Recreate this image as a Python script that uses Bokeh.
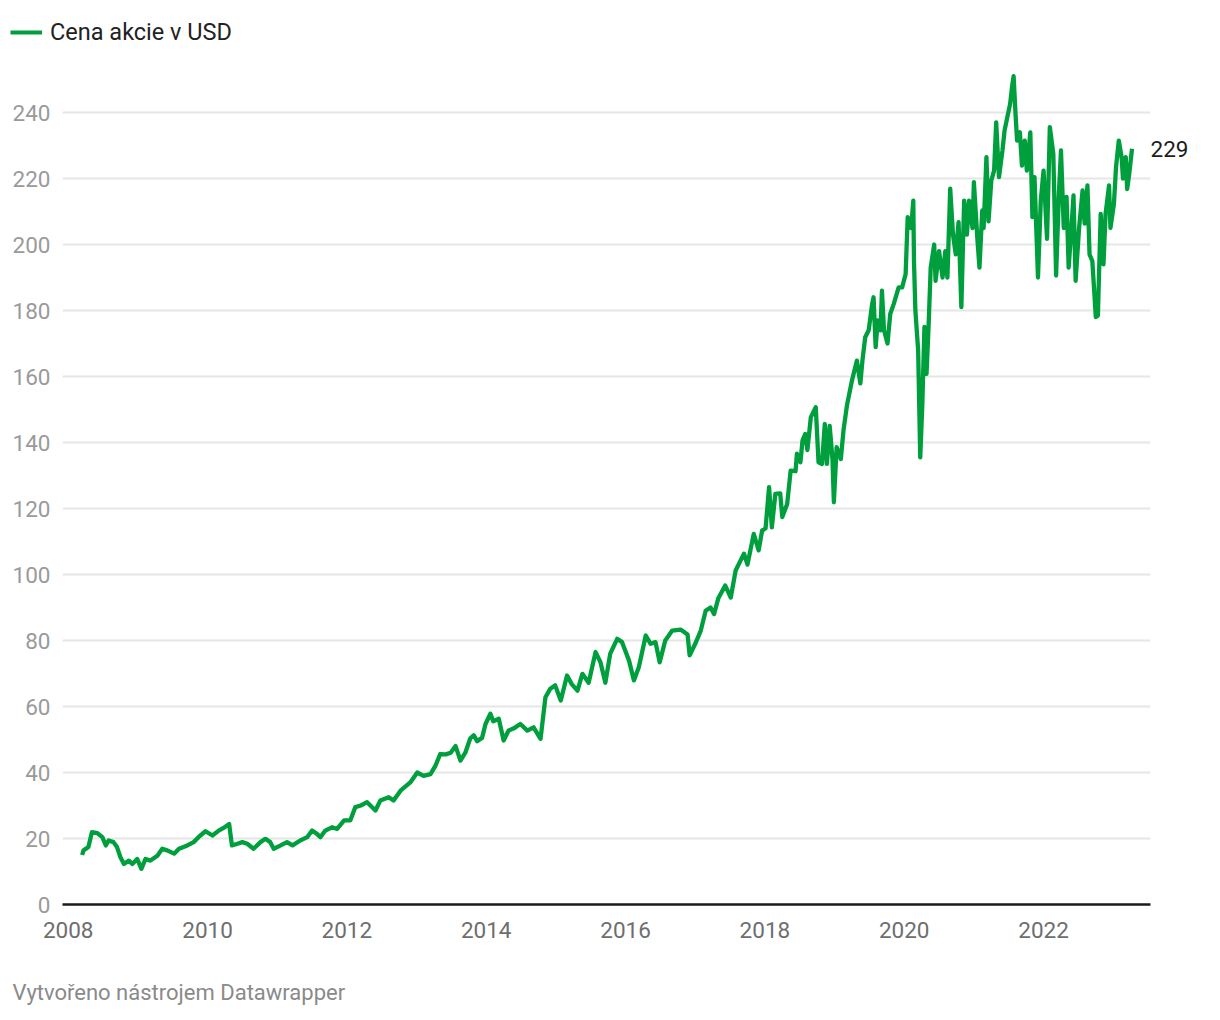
from bokeh.plotting import figure
from bokeh.models import (Range1d, FixedTicker, Label, Legend, LegendItem, ColumnDataSource,
                          LinearAxis, NumeralTickFormatter)
from bokeh.embed import file_html
from bokeh.resources import INLINE

series_name = "Cena akcie v USD"
credit = "Vytvořeno nástrojem Datawrapper"
y_ticks = [0, 20, 40, 60, 80, 100, 120, 140, 160, 180, 200, 220, 240]
x_ticks = [2008, 2010, 2012, 2014, 2016, 2018, 2020, 2022]

years = [
    2008.20, 2008.22, 2008.29, 2008.34, 2008.42, 2008.49, 2008.54, 2008.58, 2008.65, 2008.70, 2008.75, 2008.80, 2008.87, 2008.92, 2008.99,
    2009.05, 2009.11, 2009.18, 2009.28, 2009.35, 2009.42, 2009.52, 2009.59, 2009.71, 2009.80, 2009.87, 2009.97,
    2010.07, 2010.16, 2010.23, 2010.31, 2010.35, 2010.43, 2010.50, 2010.57, 2010.66, 2010.76, 2010.83, 2010.90, 2010.95,
    2011.05, 2011.14, 2011.22, 2011.33, 2011.43, 2011.50, 2011.57, 2011.62, 2011.69, 2011.79, 2011.86, 2011.96,
    2012.05, 2012.12, 2012.20, 2012.29, 2012.41, 2012.48, 2012.60, 2012.67, 2012.77, 2012.91,
    2013.01, 2013.10, 2013.20, 2013.27, 2013.34, 2013.42, 2013.49, 2013.56, 2013.63, 2013.70, 2013.77, 2013.82, 2013.87, 2013.94, 2013.99,
    2014.06, 2014.10, 2014.18, 2014.25, 2014.32, 2014.39, 2014.49, 2014.59, 2014.68, 2014.78, 2014.85, 2014.92, 2014.99,
    2015.07, 2015.16, 2015.23, 2015.31, 2015.38, 2015.47, 2015.57, 2015.64, 2015.71, 2015.78, 2015.88, 2015.95,
    2016.05, 2016.12, 2016.19, 2016.29, 2016.36, 2016.43, 2016.49, 2016.57, 2016.67, 2016.79, 2016.89, 2016.92,
    2017.00, 2017.08, 2017.15, 2017.22, 2017.27, 2017.33, 2017.43, 2017.51, 2017.58, 2017.65, 2017.70, 2017.75, 2017.84, 2017.91, 2017.96,
    2018.01, 2018.06, 2018.10, 2018.15, 2018.22, 2018.25, 2018.32, 2018.37, 2018.44, 2018.46, 2018.51, 2018.54, 2018.58, 2018.61, 2018.66,
    2018.73, 2018.77, 2018.82, 2018.86, 2018.89, 2018.93, 2018.97, 2018.99,
    2019.03, 2019.09, 2019.13, 2019.18, 2019.25, 2019.32, 2019.37, 2019.40, 2019.44, 2019.49, 2019.54, 2019.56, 2019.59, 2019.62, 2019.66,
    2019.68, 2019.71, 2019.76, 2019.80, 2019.85, 2019.92, 2019.97,
    2020.02, 2020.05, 2020.10, 2020.13, 2020.14, 2020.16, 2020.20, 2020.23, 2020.26, 2020.29, 2020.32, 2020.35, 2020.38, 2020.43, 2020.45,
    2020.50, 2020.55, 2020.59, 2020.62, 2020.66, 2020.70, 2020.74, 2020.78, 2020.82, 2020.86, 2020.90, 2020.93, 2020.98,
    2021.00, 2021.05, 2021.08, 2021.12, 2021.14, 2021.18, 2021.21, 2021.25, 2021.29, 2021.32, 2021.36, 2021.41, 2021.44, 2021.48, 2021.52,
    2021.55, 2021.57, 2021.60, 2021.62, 2021.66, 2021.69, 2021.73, 2021.76, 2021.81, 2021.84, 2021.87, 2021.92, 2021.96,
    2022.00, 2022.05, 2022.09, 2022.14, 2022.18, 2022.22, 2022.25, 2022.29, 2022.33, 2022.36, 2022.40, 2022.43, 2022.46, 2022.51, 2022.56,
    2022.59, 2022.63, 2022.66, 2022.70, 2022.75, 2022.78, 2022.82, 2022.86, 2022.89, 2022.94, 2022.96,
    2023.01, 2023.04, 2023.08, 2023.12, 2023.14, 2023.18, 2023.20, 2023.23, 2023.27,
]

prices = [
    15.0, 16.4, 17.4, 21.9, 21.6, 20.4, 17.9, 19.4, 18.9, 17.4, 14.3, 12.3, 13.3, 12.3, 13.8,
    10.8, 13.8, 13.3, 14.8, 16.9, 16.4, 15.4, 16.9, 17.9, 18.9, 20.4, 22.2,
    20.9, 22.4, 23.2, 24.4, 17.9, 18.4, 18.9, 18.4, 16.9, 18.9, 19.9, 18.9, 16.9,
    17.9, 18.9, 17.9, 19.4, 20.4, 22.4, 21.4, 20.4, 22.4, 23.4, 22.9, 25.5,
    25.5, 29.5, 30.0, 31.0, 28.5, 31.5, 32.5, 31.5, 34.5, 37.0,
    40.0, 39.0, 39.5, 42.0, 45.6, 45.5, 46.0, 48.0, 43.6, 46.0, 50.3, 51.3, 49.5, 50.5, 54.7,
    57.8, 55.5, 56.3, 49.7, 52.7, 53.3, 54.7, 52.7, 53.7, 50.2, 62.8, 65.4, 66.4,
    61.8, 69.4, 66.7, 64.8, 69.9, 67.2, 76.5, 73.4, 67.2, 76.0, 80.5, 79.5,
    73.9, 67.9, 71.9, 81.5, 79.0, 79.5, 73.4, 80.0, 83.0, 83.3, 81.8, 75.5,
    79.0, 83.0, 89.0, 90.0, 88.0, 92.7, 96.7, 93.0, 101.2, 104.2, 106.3, 103.0, 112.3, 107.3, 113.3,
    114.0, 126.5, 114.3, 124.4, 124.6, 117.4, 121.4, 131.5, 131.3, 136.6, 134.0, 140.6, 142.6, 137.7, 147.7,
    150.7, 134.0, 133.5, 145.6, 133.5, 145.0, 135.0, 121.9,
    138.6, 135.0, 144.0, 151.5, 158.8, 164.8, 157.9, 164.8, 171.9, 174.0, 182.0, 184.0, 168.9, 177.0, 174.0,
    186.0, 174.0, 170.0, 179.0, 182.0, 187.0, 187.0,
    191.0, 208.3, 205.0, 213.3, 195.0, 180.0, 167.9, 135.5, 151.7, 175.0, 160.8, 175.5, 193.0, 200.0, 189.0,
    198.0, 190.0, 198.0, 190.0, 216.9, 203.0, 197.0, 206.8, 181.0, 213.3, 203.0, 213.3, 205.0,
    218.9, 201.7, 193.0, 210.3, 205.0, 226.5, 207.0, 219.4, 222.4, 237.0, 220.4, 228.5, 234.5, 238.6, 242.6,
    248.2, 251.0, 238.6, 231.5, 234.0, 223.9, 231.5, 222.4, 234.0, 208.3, 220.4, 190.0, 213.3,
    222.4, 201.7, 235.6, 227.5, 190.6, 215.4, 228.5, 205.0, 214.4, 193.0, 205.0, 214.9, 189.0, 205.0, 216.4,
    206.3, 217.9, 197.0, 195.0, 178.0, 178.5, 209.3, 194.0, 209.3, 217.9, 205.0,
    212.3, 223.4, 231.5, 226.5, 220.0, 226.5, 216.8, 221.4, 229.0,
]

GREEN = "#009f3d"
FONT = "Roboto"
FS = "22.5px"
W = 1220

src = ColumnDataSource(data=dict(x=years, y=prices))


def bare(fig):
    fig.outline_line_color = None
    fig.background_fill_color = "white"
    fig.border_fill_color = "white"
    fig.xgrid.visible = False
    fig.ygrid.visible = False
    return fig


# ---------- header with the legend (its line lies outside the header's view) ----------
header = bare(figure(
    width=W, height=60, output_backend="svg", toolbar_location=None,
    x_range=Range1d(0, 1), y_range=Range1d(0, 1),
    x_axis_type=None, y_axis_type=None,
    min_border_left=0, min_border_right=0, min_border_top=0, min_border_bottom=0,
))
legend_glyph = header.line("x", "y", source=src, line_color=GREEN, line_width=4)
legend = Legend(
    items=[LegendItem(label=series_name, renderers=[legend_glyph])],
    location=(10, 14),
    orientation="horizontal",
    border_line_color=None,
    background_fill_alpha=0,
    padding=0, margin=0, spacing=0,
    glyph_width=32, glyph_height=24, label_height=24, label_standoff=8,
    label_text_font=FONT, label_text_font_size="23.5px", label_text_color="#222222",
)
header.add_layout(legend)

# ---------- main chart ----------
p = bare(figure(
    width=W, height=900,
    output_backend="svg", toolbar_location=None,
    x_range=Range1d(2007.918, 2023.535),
    y_range=Range1d(0, 255.76),
    min_border_left=62, min_border_right=70, min_border_top=0, min_border_bottom=56,
))
p.ygrid.visible = True
p.ygrid.grid_line_color = "#e6e6e6"
p.ygrid.grid_line_width = 2
p.ygrid.ticker = FixedTicker(ticks=y_ticks)

p.yaxis.ticker = FixedTicker(ticks=y_ticks)
p.yaxis.axis_line_color = None
p.yaxis.major_tick_line_color = None
p.yaxis.minor_tick_line_color = None
p.yaxis.major_tick_out = 0
p.yaxis.major_tick_in = 0
p.yaxis.major_label_standoff = 12
p.yaxis.major_label_text_font = FONT
p.yaxis.major_label_text_font_size = FS
p.yaxis.major_label_text_color = "#9a9a9a"

p.xaxis.ticker = FixedTicker(ticks=x_ticks)
p.xaxis.axis_line_color = "#1a1a1a"
p.xaxis.axis_line_width = 2.5
p.xaxis.major_tick_line_color = None
p.xaxis.minor_tick_line_color = None
p.xaxis.major_tick_out = 0
p.xaxis.major_tick_in = 0
p.xaxis.major_label_standoff = 17
p.xaxis.major_label_text_font = FONT
p.xaxis.major_label_text_font_size = FS
p.xaxis.major_label_text_color = "#6e6e6e"

# value label of the last point, as an axis of its own on the right
last_axis = LinearAxis(
    ticker=FixedTicker(ticks=[prices[-1]]),
    formatter=NumeralTickFormatter(format="0"),
    axis_line_color=None, major_tick_line_color=None, minor_tick_line_color=None,
    major_tick_out=0, major_tick_in=0,
    major_label_standoff=0,
    major_label_text_font=FONT, major_label_text_font_size=FS,
    major_label_text_color="#1d1d1d",
)
p.add_layout(last_axis, "right")

p.line("x", "y", source=src, line_color=GREEN, line_width=4.3, line_join="round")

# ---------- footer ----------
footer = bare(figure(
    width=W, height=60, output_backend="svg", toolbar_location=None,
    x_range=Range1d(0, 1), y_range=Range1d(0, 1),
    x_axis_type=None, y_axis_type=None,
    min_border_left=0, min_border_right=0, min_border_top=0, min_border_bottom=0,
))
footer.add_layout(Label(
    x=12, y=28, x_units="screen", y_units="screen", text=credit,
    text_baseline="alphabetic", text_align="left",
    text_font=FONT, text_font_size="22px", text_color="#8a8a8a",
))

open("out.html", "w").write(file_html([header, p, footer], INLINE))
